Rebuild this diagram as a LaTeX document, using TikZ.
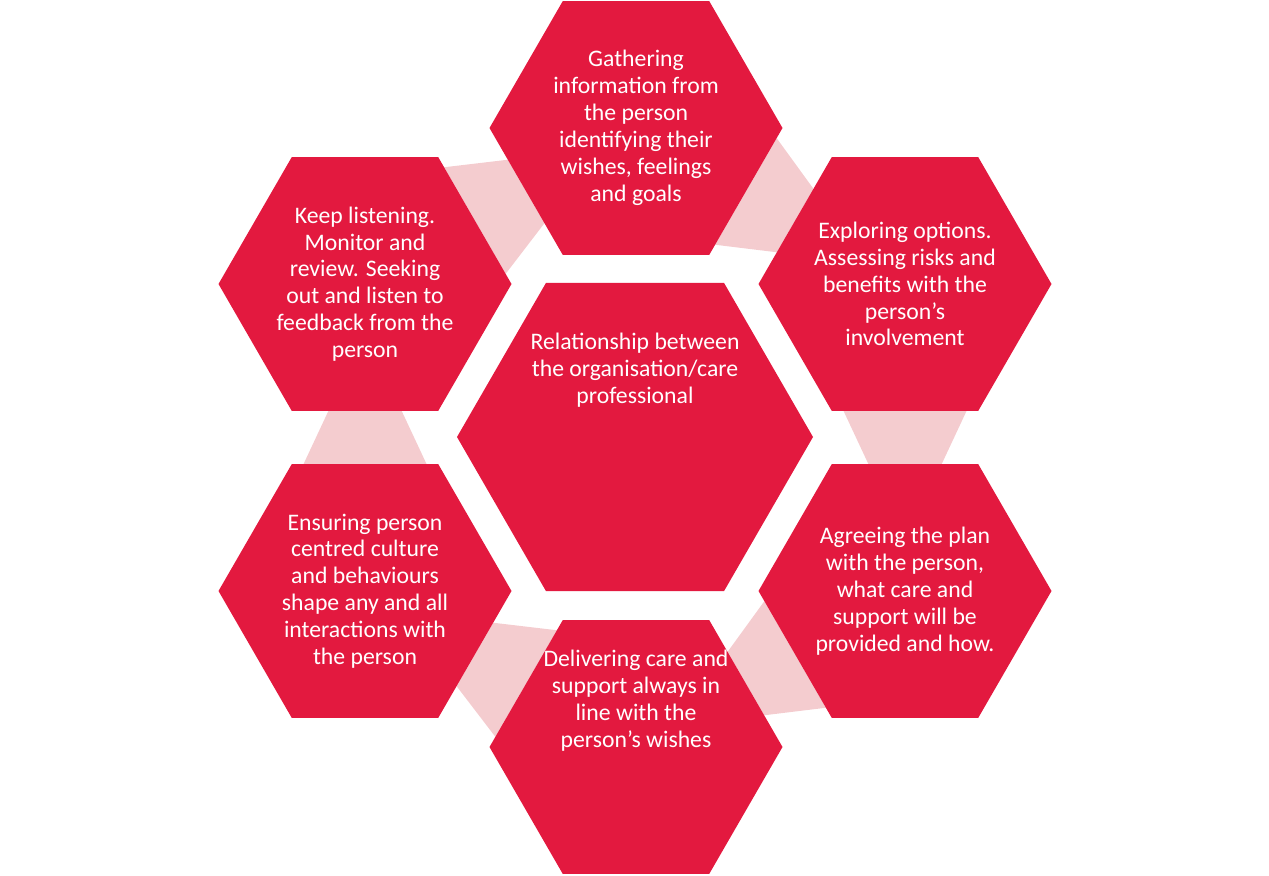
\documentclass[tikz,border=0pt]{standalone}
\usepackage{fontspec}
\setmainfont{Carlito}
\usetikzlibrary{calc}
\definecolor{hexred}{HTML}{E3193F}
\definecolor{linkpink}{HTML}{F4CCCF}
\tikzset{
  hextext/.style={text=white, align=center, font=\fontsize{13.5}{15.3}\selectfont},
  link/.style={fill=linkpink, draw=none}
}
% hexagon with flat top: name, centre, radius, text
\newcommand{\hexa}[4]{%
  \fill[hexred] ($#2+(#3,0)$) -- ($#2+(0.5*#3,-0.866*#3)$) -- ($#2+(-0.5*#3,-0.866*#3)$)
    -- ($#2+(-#3,0)$) -- ($#2+(-0.5*#3,0.866*#3)$) -- ($#2+(0.5*#3,0.866*#3)$) -- cycle;
  \node[hextext] (#1) at #2 {#4};}
% link between two parallel edges: wide end a1,a2 and narrow end b1,b2
\newcommand{\link}[4]{%
  \fill[link] ($#1!0.08!#2$) -- ($#1!0.92!#2$) -- ($#3!0.75!#4$) -- ($#3!0.25!#4$) -- cycle;}
\begin{document}
\begin{tikzpicture}[x=0.02cm, y=-0.02cm]
  \useasboundingbox (0,0) rectangle (1269,876);
  % links
  \link{(782.5,128)}{(709.3,254.9)}{(831.8,157.1)}{(758.5,284)}
  \link{(978.3,410.9)}{(831.8,410.9)}{(978.3,464.1)}{(831.8,464.1)}
  \link{(831.8,717.9)}{(758.5,591)}{(782.5,747)}{(709.3,620.1)}
  \link{(562.8,620.1)}{(489.5,747)}{(511.5,591)}{(438.3,717.9)}
  \link{(291.8,464.1)}{(438.3,464.1)}{(291.8,410.9)}{(438.3,410.9)}
  \link{(438.3,157.1)}{(511.5,284)}{(489.5,128)}{(562.8,254.9)}
  % hexagons
  \hexa{centre}{(635,437)}{178}{Relationship between\\the organisation/care\\professional\\[2.2cm]}
  \hexa{gather}{(636,128)}{146.5}{Gathering\\information from\\the person\\identifying their\\wishes, feelings\\and goals}
  \hexa{explore}{(905,284)}{146.5}{Exploring options.\\Assessing risks and\\benefits with the\\person’s\\involvement}
  \hexa{agree}{(905,591)}{146.5}{Agreeing the plan\\with the person,\\what care and\\support will be\\provided and how.}
  \hexa{deliver}{(636,747)}{146.5}{Delivering care and\\support always in\\line with the\\person’s wishes\\[1.4cm]}
  \hexa{ensure}{(365,591)}{146.5}{Ensuring person\\centred culture\\and behaviours\\shape any and all\\interactions with\\the person}
  \hexa{listen}{(365,284)}{146.5}{Keep listening.\\Monitor and\\review. Seeking\\out and listen to\\feedback from the\\person}
\end{tikzpicture}
\end{document}
